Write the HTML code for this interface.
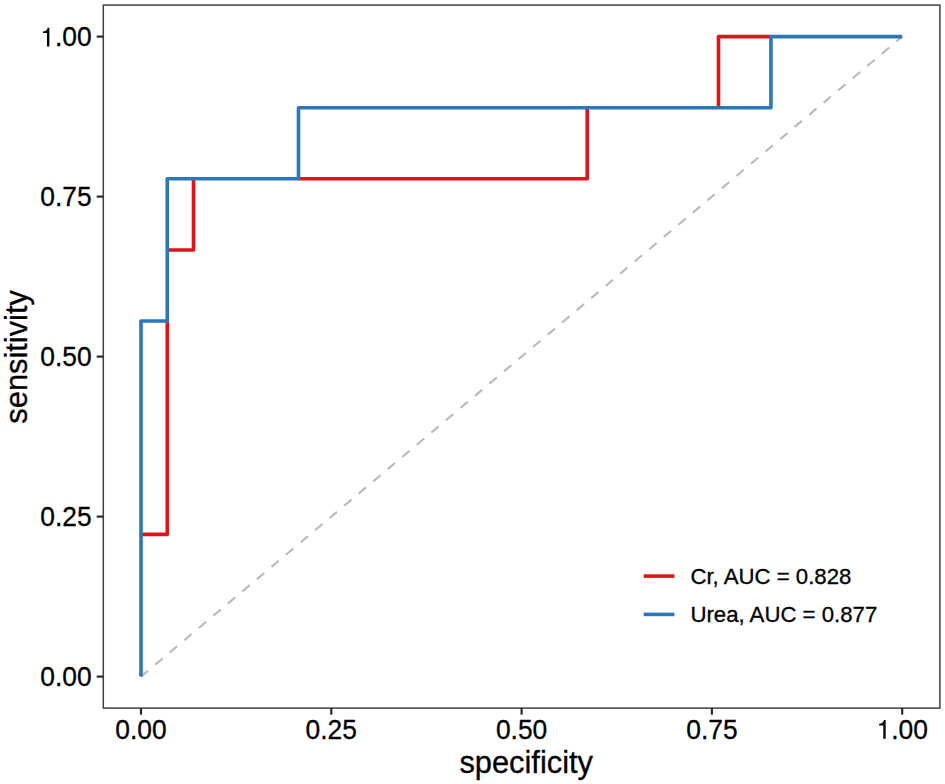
<!DOCTYPE html>
<html><head><meta charset="utf-8"><title>ROC</title>
<style>
html,body{margin:0;padding:0;background:#ffffff;}
body{width:945px;height:784px;overflow:hidden;}
svg{display:block;}
text{font-family:"Liberation Sans",sans-serif;fill:#000000;stroke:#000000;stroke-width:0.3px;}
tspan.h{fill:none;stroke:none;}
</style></head><body>
<svg width="945" height="784" viewBox="0 0 945 784">
<rect x="0" y="0" width="945" height="784" fill="#ffffff"/>
<rect x="103.3" y="5.1" width="836.6" height="703.0" fill="none" stroke="#404040" stroke-width="1.5"/>
<line x1="141.00" y1="676.60" x2="902.20" y2="36.60" stroke="#b9b9b9" stroke-width="2.1" stroke-dasharray="9.6 9.385" stroke-dashoffset="0.4"/>
<polyline points="141.00,534.38 167.25,534.38 167.25,321.04" fill="none" stroke="#e31219" stroke-width="3.6" stroke-linejoin="round"/>
<polyline points="167.25,249.93 193.50,249.93 193.50,178.82" fill="none" stroke="#e31219" stroke-width="3.6" stroke-linejoin="round"/>
<polyline points="298.49,178.82 587.22,178.82 587.22,107.71" fill="none" stroke="#e31219" stroke-width="3.6" stroke-linejoin="round"/>
<polyline points="718.46,107.71 718.46,36.60 770.96,36.60" fill="none" stroke="#e31219" stroke-width="3.6" stroke-linejoin="round"/>
<polyline points="141.00,676.60 141.00,321.04 167.25,321.04 167.25,178.82 298.49,178.82 298.49,107.71 770.96,107.71 770.96,36.60 902.20,36.60" fill="none" stroke="#2b77b7" stroke-width="3.6" stroke-linejoin="round"/>
<line x1="141.00" y1="708.1" x2="141.00" y2="714.7" stroke="#222222" stroke-width="2.1"/>
<g transform="translate(0,738.80) scale(1,1.03) translate(0,-738.80)"><text x="141.00" y="738.80" text-anchor="middle" font-size="26.4">0.00</text></g>
<line x1="331.30" y1="708.1" x2="331.30" y2="714.7" stroke="#222222" stroke-width="2.1"/>
<g transform="translate(0,738.80) scale(1,1.03) translate(0,-738.80)"><text x="331.30" y="738.80" text-anchor="middle" font-size="26.4">0.25</text></g>
<line x1="521.60" y1="708.1" x2="521.60" y2="714.7" stroke="#222222" stroke-width="2.1"/>
<g transform="translate(0,738.80) scale(1,1.03) translate(0,-738.80)"><text x="521.60" y="738.80" text-anchor="middle" font-size="26.4">0.50</text></g>
<line x1="711.90" y1="708.1" x2="711.90" y2="714.7" stroke="#222222" stroke-width="2.1"/>
<g transform="translate(0,738.80) scale(1,1.03) translate(0,-738.80)"><text x="711.90" y="738.80" text-anchor="middle" font-size="26.4">0.75</text></g>
<line x1="902.20" y1="708.1" x2="902.20" y2="714.7" stroke="#222222" stroke-width="2.1"/>
<g transform="translate(0,738.80) scale(1,1.03) translate(0,-738.80)"><text x="902.20" y="738.80" text-anchor="middle" font-size="26.4"><tspan class="h">1</tspan>.00</text></g><path d="M.346 0L.257 0L.257 .505L.102 .505L.102 .568C.205 .572 .265 .615 .285 .709L.346 .709Z" fill="#000" transform="translate(876.51,738.80) scale(26.4,-26.4)"/>
<line x1="96.7" y1="676.60" x2="103.3" y2="676.60" stroke="#222222" stroke-width="2.1"/>
<g transform="translate(0,686.40) scale(1,1.03) translate(0,-686.40)"><text x="91.60" y="686.40" text-anchor="end" font-size="26.4">0.00</text></g>
<line x1="96.7" y1="516.60" x2="103.3" y2="516.60" stroke="#222222" stroke-width="2.1"/>
<g transform="translate(0,526.40) scale(1,1.03) translate(0,-526.40)"><text x="91.60" y="526.40" text-anchor="end" font-size="26.4">0.25</text></g>
<line x1="96.7" y1="356.60" x2="103.3" y2="356.60" stroke="#222222" stroke-width="2.1"/>
<g transform="translate(0,366.40) scale(1,1.03) translate(0,-366.40)"><text x="91.60" y="366.40" text-anchor="end" font-size="26.4">0.50</text></g>
<line x1="96.7" y1="196.60" x2="103.3" y2="196.60" stroke="#222222" stroke-width="2.1"/>
<g transform="translate(0,206.40) scale(1,1.03) translate(0,-206.40)"><text x="91.60" y="206.40" text-anchor="end" font-size="26.4">0.75</text></g>
<line x1="96.7" y1="36.60" x2="103.3" y2="36.60" stroke="#222222" stroke-width="2.1"/>
<g transform="translate(0,46.40) scale(1,1.03) translate(0,-46.40)"><text x="91.60" y="46.40" text-anchor="end" font-size="26.4"><tspan class="h">1</tspan>.00</text></g><path d="M.346 0L.257 0L.257 .505L.102 .505L.102 .568C.205 .572 .265 .615 .285 .709L.346 .709Z" fill="#000" transform="translate(40.23,46.40) scale(26.4,-26.4)"/>
<text x="526.2" y="773.4" text-anchor="middle" font-size="30.8">specificity</text>
<text transform="translate(27.1,356.9) rotate(-90)" text-anchor="middle" font-size="30.8">sensitivity</text>
<line x1="643.7" y1="576.1" x2="674.4" y2="576.1" stroke="#e31219" stroke-width="3.6"/>
<line x1="643.7" y1="614.4" x2="674.4" y2="614.4" stroke="#2b77b7" stroke-width="3.6"/>
<text x="690.4" y="583.9" font-size="22.2">Cr, AUC = 0.828</text>
<text x="690.4" y="622.2" font-size="22.2">Urea, AUC = 0.877</text>
</svg>
</body></html>
